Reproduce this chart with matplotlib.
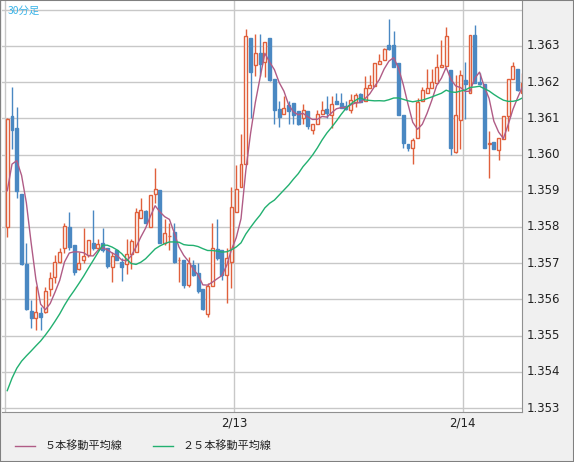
import numpy as np
import matplotlib
matplotlib.use("Agg")
import matplotlib.pyplot as plt
from matplotlib.patches import Rectangle

plt.rcParams['font.family'] = ['Noto Sans CJK JP', 'DejaVu Sans']

# earlier closes (before visible window) used only to warm up moving averages
prior_close = [1.3521]*20 + [1.3570, 1.3585, 1.3590, 1.3595]

opens = [1.35801,1.36107,1.36074,1.35892,1.35697,1.35567,1.35548,1.35562,1.35564,1.35628,
 1.35661,1.35702,1.35741,1.35801,1.35749,1.35683,1.35710,1.35722,1.35755,1.35743,
 1.35755,1.35741,1.35689,1.35735,1.35702,1.35697,1.35724,1.35732,1.35826,1.35845,
 1.35799,1.35892,1.35903,1.35755,1.35774,1.35785,1.35708,1.35710,1.35639,1.35694,
 1.35672,1.35628,1.35559,1.35636,1.35738,1.35735,1.35666,1.35702,1.35840,1.35909,
 1.35975,1.36322,1.36248,1.36281,1.36256,1.36322,1.36209,1.36126,1.36113,1.36137,
 1.36143,1.36121,1.36102,1.36121,1.36069,1.36085,1.36113,1.36126,1.36110,1.36148,
 1.36143,1.36135,1.36124,1.36146,1.36168,1.36148,1.36184,1.36190,1.36250,1.36261,
 1.36303,1.36303,1.36253,1.36110,1.36030,1.36019,1.36047,1.36148,1.36171,1.36184,
 1.36198,1.36242,1.36245,1.36234,1.36008,1.36096,1.36206,1.36171,1.36330,1.36201,
 1.36195,1.36030,1.36035,1.36013,1.36044,1.36107,1.36209,1.36237,1.36171]
highs = [1.36102,1.36187,1.36132,1.35892,1.35755,1.35598,1.35636,1.35578,1.35633,1.35675,
 1.35722,1.35741,1.35812,1.35840,1.35749,1.35730,1.35796,1.35763,1.35848,1.35768,
 1.35796,1.35741,1.35730,1.35735,1.35713,1.35766,1.35766,1.35851,1.35881,1.35848,
 1.35887,1.35964,1.35903,1.35823,1.35810,1.35812,1.35716,1.35710,1.35716,1.35710,
 1.35700,1.35628,1.35644,1.35810,1.35821,1.35735,1.35741,1.35909,1.35972,1.36058,
 1.36347,1.36322,1.36333,1.36333,1.36311,1.36322,1.36209,1.36148,1.36162,1.36148,
 1.36143,1.36121,1.36140,1.36121,1.36085,1.36124,1.36148,1.36162,1.36162,1.36171,
 1.36171,1.36148,1.36168,1.36171,1.36171,1.36217,1.36220,1.36253,1.36278,1.36295,
 1.36374,1.36341,1.36253,1.36110,1.36030,1.36047,1.36157,1.36187,1.36237,1.36237,
 1.36278,1.36317,1.36352,1.36234,1.36220,1.36234,1.36256,1.36330,1.36358,1.36226,
 1.36195,1.36066,1.36035,1.36047,1.36107,1.36209,1.36256,1.36237,1.36226]
lows = [1.35771,1.36016,1.35881,1.35694,1.35570,1.35520,1.35515,1.35515,1.35562,1.35608,
 1.35644,1.35700,1.35727,1.35735,1.35666,1.35680,1.35700,1.35716,1.35735,1.35735,
 1.35730,1.35686,1.35647,1.35708,1.35650,1.35669,1.35683,1.35732,1.35826,1.35810,
 1.35799,1.35867,1.35755,1.35749,1.35735,1.35700,1.35647,1.35631,1.35633,1.35664,
 1.35617,1.35570,1.35551,1.35636,1.35710,1.35653,1.35589,1.35631,1.35840,1.35909,
 1.35975,1.36102,1.36217,1.36217,1.36215,1.36204,1.36085,1.36077,1.36113,1.36085,
 1.36085,1.36082,1.36085,1.36071,1.36058,1.36085,1.36113,1.36102,1.36074,1.36140,
 1.36129,1.36124,1.36115,1.36132,1.36146,1.36148,1.36184,1.36190,1.36250,1.36261,
 1.36289,1.36242,1.36110,1.36019,1.36011,1.35975,1.36047,1.36148,1.36171,1.36184,
 1.36198,1.36242,1.36245,1.36000,1.36005,1.36016,1.36099,1.36171,1.36198,1.36193,
 1.36019,1.35936,1.36016,1.35986,1.36044,1.36066,1.36209,1.36176,1.36171]
closes = [1.36099,1.36069,1.35898,1.35697,1.35573,1.35548,1.35564,1.35551,1.35622,1.35658,
 1.35702,1.35730,1.35804,1.35746,1.35675,1.35700,1.35719,1.35763,1.35743,1.35752,
 1.35735,1.35691,1.35719,1.35710,1.35689,1.35724,1.35760,1.35840,1.35848,1.35812,
 1.35887,1.35906,1.35755,1.35782,1.35774,1.35702,1.35710,1.35639,1.35700,1.35666,
 1.35622,1.35573,1.35636,1.35741,1.35713,1.35666,1.35713,1.35854,1.35906,1.35975,
 1.36328,1.36228,1.36281,1.36250,1.36311,1.36206,1.36124,1.36104,1.36129,1.36121,
 1.36110,1.36085,1.36124,1.36080,1.36085,1.36113,1.36124,1.36115,1.36140,1.36140,
 1.36129,1.36126,1.36151,1.36165,1.36146,1.36184,1.36193,1.36253,1.36259,1.36292,
 1.36292,1.36242,1.36110,1.36033,1.36019,1.36041,1.36146,1.36179,1.36184,1.36201,
 1.36242,1.36248,1.36328,1.36019,1.36110,1.36220,1.36195,1.36330,1.36198,1.36195,
 1.36019,1.36033,1.36016,1.36047,1.36107,1.36209,1.36245,1.36179,1.36198]

date_labels = ['2/13', '2/14']
date_idx = [48, 96]
yticks = [1.353,1.354,1.355,1.356,1.357,1.358,1.359,1.360,1.361,1.362,1.363]

n = len(closes)
x = np.arange(n)
allc = np.array(prior_close + closes)
def ma(k):
    return np.array([allc[len(prior_close)+i-k+1:len(prior_close)+i+1].mean() for i in range(n)])
ma5 = ma(5); ma25 = ma(25)

W, H = 574, 462
fig = plt.figure(figsize=(W/100, H/100), dpi=100, facecolor='#f0f0f0')
ax = fig.add_axes([2/W, (H-412)/H, 520/W, 411/H])
ax.set_facecolor('white')
ax.set_xlim(-1.1, 107.9)
ax.set_ylim(1.35289, 1.36424)

for yv in yticks + [1.364]:
    ax.axhline(yv, color='#c8c8c8', lw=1, zorder=0)
for d in [0] + date_idx:
    ax.axvline(d - 0.5, color='#c8c8c8', lw=1, zorder=0)

up_c = '#e0603c'; dn_c = '#4a88c2'
bw = 0.62
for i in range(n):
    o, h, l, c = opens[i], highs[i], lows[i], closes[i]
    up = c >= o
    col = up_c if up else dn_c
    top, bot = max(o, c), min(o, c)
    ax.plot([i, i], [top, h], color=col, lw=1, zorder=2, solid_capstyle='butt')
    ax.plot([i, i], [l, bot], color=col, lw=1, zorder=2, solid_capstyle='butt')
    hgt = max(top - bot, 0.00002)
    if up:
        ax.add_patch(Rectangle((i - bw/2, bot), bw, hgt, facecolor='white', edgecolor=col, lw=1, zorder=3))
    else:
        ax.add_patch(Rectangle((i - bw/2, bot), bw, hgt, facecolor=col, edgecolor=col, lw=1, zorder=3))

ax.plot(x, ma5, color='#b05c86', lw=1, zorder=4)
ax.plot(x, ma25, color='#22b070', lw=1, zorder=4)

ax.set_xticks([]); ax.set_yticks([])
for s in ax.spines.values():
    s.set_color('#909090')
ax.spines['left'].set_visible(False)
ax.spines['top'].set_visible(False)

for yv in yticks:
    ax.text(1.0 + 5/W*574/520, yv, f'{yv:.3f}', transform=ax.get_yaxis_transform(),
            ha='left', va='center', fontsize=8.5, family='DejaVu Sans', color='#222222')
for lab, d in zip(date_labels, date_idx):
    ax.text(d - 0.5, -0.012, lab, transform=ax.get_xaxis_transform(), ha='center', va='top',
            fontsize=8.5, family='DejaVu Sans', color='#222222')

fig.text(8/W, 1 - 11/H, '30分足', color='#3ab4e8', fontsize=7.5, va='center', ha='left')

fig.lines.append(plt.Line2D([15/W, 35/W], [1-446/H]*2, color='#b05c86', lw=1, transform=fig.transFigure))
fig.text(45/W, 1-446/H, '５本移動平均線', fontsize=8, va='center', color='#222222')
fig.lines.append(plt.Line2D([153/W, 173/W], [1-446/H]*2, color='#22b070', lw=1, transform=fig.transFigure))
fig.text(182/W, 1-446/H, '２５本移動平均線', fontsize=8, va='center', color='#222222')

fig.patches.append(Rectangle((0, 0), 1, 1, transform=fig.transFigure, fill=False,
                             edgecolor='#808080', lw=1.5))
fig.savefig('out.png', dpi=100, facecolor=fig.get_facecolor())
